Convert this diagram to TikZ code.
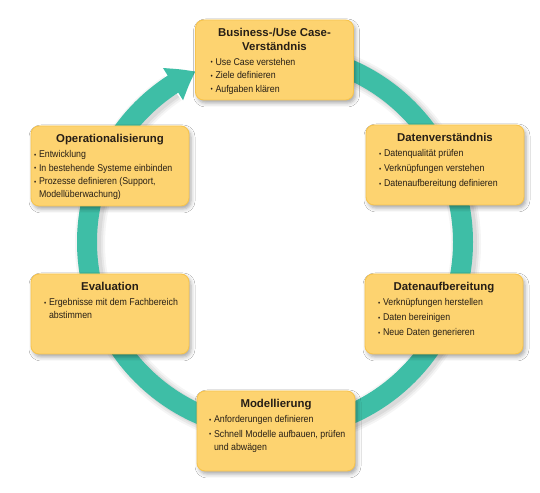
\documentclass[tikz,border=0pt]{standalone}
\usepackage{fontspec}
\setmainfont{Liberation Sans}
\newfontfamily\condfont{Liberation Sans}[FakeStretch=0.9]
\usetikzlibrary{arrows.meta,bending,shadows.blur}

\definecolor{ringc}{RGB}{62,190,166}
\definecolor{boxfill}{RGB}{253,211,112}
\definecolor{boxline}{RGB}{247,196,78}
\definecolor{txt}{RGB}{38,30,22}

\newcommand\smallbullet{\raisebox{0.6pt}{\fontsize{7}{7}\selectfont •}}
\newcommand\bitem[1]{\par\hangindent=5pt\hangafter=1\makebox[5pt][l]{\smallbullet}#1}
\newcommand\stagetext[4]{%
  \parbox[c][80pt][t]{158pt}{%
    \centering\fontsize{11.4}{13.5}\selectfont\bfseries\rule{0pt}{17pt}#3\par
    \vspace{\dimexpr2.2pt-#2\relax}%
    \condfont\mdseries\fontsize{9.8}{12.8}\selectfont\raggedright
    \leftskip=#1\relax\parskip=#2\relax
    #4\par}}

\begin{document}
\begin{tikzpicture}[x=1pt,y=1pt,
  stagebox/.style={draw=boxline, line width=0.9pt, fill=boxfill, rounded corners=8pt,
    inner sep=0pt, text=txt,
    blur shadow={shadow xshift=2pt, shadow yshift=-3pt, shadow blur radius=4pt, shadow opacity=35}},
  ring/.style={draw=ringc, line width=20pt, -{Triangle[width=36pt,length=26pt,bend]}},
  ringshadow/.style={draw=black, line width=#1}]
\useasboundingbox[fill=white] (0,0) rectangle (540,492);
\coordinate (c) at (275,250);
% soft shadow of the ring
\foreach \w/\o in {30/0.04, 26/0.05, 22/0.06}
  \draw[ringshadow=\w pt, opacity=\o] ([shift={(3,-2)}]c) ++(90:188) arc[start angle=90, end angle=-236, radius=188pt];
% ring with arrow
\draw[ring] (c) ++(90:188) arc[start angle=90, end angle=-245, radius=188pt];

\node[stagebox] (bu) at (274.5,432) {\stagetext{15pt}{0.7pt}{Business-/Use Case-\\Verständnis}%
  {\bitem{Use Case verstehen}\bitem{Ziele definieren}\bitem{Aufgaben klären}}};
\node[stagebox] (op) at (110,326) {\stagetext{3pt}{0.7pt}{Operationalisierung}%
  {\bitem{Entwicklung}\bitem{In bestehende Systeme einbinden}\bitem{Prozesse definieren (Support,\newline Modellüberwachung)}}};
\node[stagebox] (dv) at (445,327) {\stagetext{13pt}{2.2pt}{Datenverständnis}%
  {\bitem{Datenqualität prüfen}\bitem{Verknüpfungen verstehen}\bitem{Datenaufbereitung definieren}}};
\node[stagebox] (ev) at (110,178) {\stagetext{13pt}{0.7pt}{Evaluation}%
  {\bitem{Ergebnisse mit dem Fachbereich\newline abstimmen}}};
\node[stagebox] (da) at (444,178) {\stagetext{13pt}{2.2pt}{Datenaufbereitung}%
  {\bitem{Verknüpfungen herstellen}\bitem{Daten bereinigen}\bitem{Neue Daten generieren}}};
\node[stagebox] (mo) at (276,61) {\stagetext{12pt}{1.5pt}{Modellierung}%
  {\bitem{Anforderungen definieren}\bitem{Schnell Modelle aufbauen, prüfen\newline und abwägen}}};
\end{tikzpicture}
\end{document}
